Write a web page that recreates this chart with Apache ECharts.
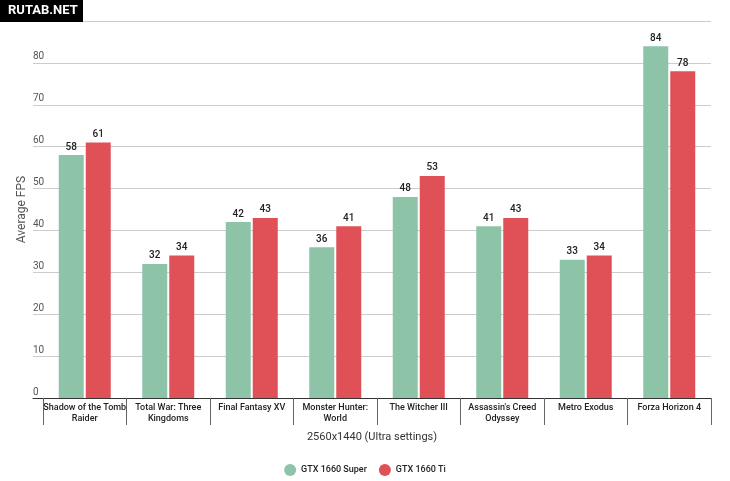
<!DOCTYPE html>
<html><head><meta charset="utf-8">
<script src="https://cdn.jsdelivr.net/npm/echarts@6/dist/echarts.min.js"></script>
<style>html,body{margin:0;padding:0;background:#fff}#c{width:730px;height:481px}</style>
</head><body><div id="c"></div>
<script>
const categories = ["Shadow of the Tomb\nRaider","Total War: Three\nKingdoms","Final Fantasy XV","Monster Hunter:\nWorld","The Witcher III","Assassin's Creed\nOdyssey","Metro Exodus","Forza Horizon 4"];
const superValues = [58,32,42,36,48,41,33,84];
const tiValues = [61,34,43,41,53,43,34,78];
const seriesNames = ["GTX 1660 Super","GTX 1660 Ti"];
const yMin = 0, yMax = 90, yStep = 10;

const font = 'Roboto, "Open Sans", sans-serif';
const chart = echarts.init(document.getElementById('c'));
chart.setOption({
  animation: false,
  textStyle: {fontFamily: font},
  graphic: [
    {type:'rect', left:0, top:0, shape:{width:83,height:22}, style:{fill:'#000'}, z:100},
    {type:'text', left:8, top:4, style:{text:'RUTAB.NET', fill:'#fff', font:'bold 13px '+font}, z:101}
  ],
  grid: [
    {left:33, right:19, top:21, bottom:83},
    {left:43, right:19, top:21, bottom:83}
  ],
  legend: {
    bottom: 0, left: 'center', icon: 'circle', itemWidth: 12, itemHeight: 12, itemGap: 12,
    textStyle: {fontSize: 9, color: '#222', fontFamily: font, fontWeight: 500},
    data: seriesNames
  },
  xAxis: [
    {gridIndex:0, type:'value', min:0, max:1, show:true, axisLine:{show:true, lineStyle:{color:'#333', width:1}}, axisTick:{show:false}, axisLabel:{show:false}, splitLine:{show:false},
     name:'2560x1440 (Ultra settings)', nameLocation:'middle', nameGap:34, nameMoveOverlap:false, nameTextStyle:{fontSize:11, color:'#333'}},
    {gridIndex:1, type:'category', data:categories, axisLine:{show:false},
     axisTick:{show:true, length:27, lineStyle:{color:'#666'}},
     axisLabel:{fontSize:9, color:'#222', margin:4, lineHeight:11, interval:0, fontWeight:500}}
  ],
  yAxis: [
    {gridIndex:0, type:'value', min:yMin, max:yMax, interval:yStep,
     axisLine:{show:false}, axisTick:{show:false},
     axisLabel:{inside:true, margin:0, align:'left', verticalAlign:'bottom', fontSize:10, color:'#555', padding:[0,0,1,0]},
     splitLine:{lineStyle:{color:'#ccc'}},
     name:'Average FPS', nameLocation:'middle', nameGap:5, nameMoveOverlap:false, nameTextStyle:{fontSize:12, color:'#555'}},
    {gridIndex:1, type:'value', min:yMin, max:yMax, interval:yStep, show:false}
  ],
  series: [
    {name:seriesNames[0], type:'bar', xAxisIndex:1, yAxisIndex:1, data:superValues, barWidth:25, barGap:'8%',
     itemStyle:{color:'#8dc4a8'}, label:{show:true, position:'top', distance:3, fontSize:10, color:'#222', fontWeight:500}},
    {name:seriesNames[1], type:'bar', xAxisIndex:1, yAxisIndex:1, data:tiValues, barWidth:25, barGap:'8%',
     itemStyle:{color:'#df5157'}, label:{show:true, position:'top', distance:3, fontSize:10, color:'#222', fontWeight:500}}
  ]
});
</script></body></html>
